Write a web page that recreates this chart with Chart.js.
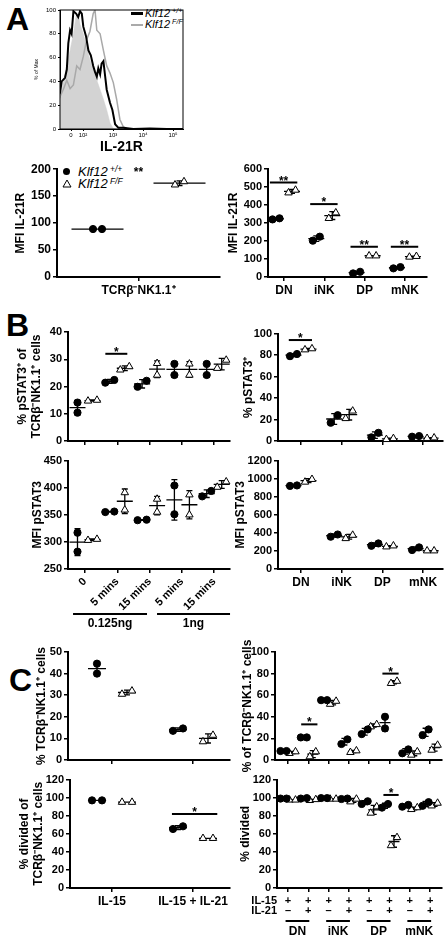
<!DOCTYPE html>
<html><head><meta charset="utf-8"><title>Klf12 IL-21R figure</title>
<script src="https://cdn.jsdelivr.net/npm/chart.js@4.4.1/dist/chart.umd.min.js"></script>
<style>
html,body{margin:0;padding:0;background:#fff;}
body{position:relative;width:447px;height:938px;overflow:hidden;font-family:'Liberation Sans',Arial,Helvetica,sans-serif;color:#000;}
canvas{position:absolute;}
.t{position:absolute;white-space:nowrap;line-height:1;}
.letter{font-weight:bold;font-size:32px;}
.leg{font-style:italic;}
.leg sup{font-size:0.65em;vertical-align:0;position:relative;top:-0.5em;}
</style></head><body>
<div class="t letter" style="left:6px;top:3px">A</div>
<div class="t letter" style="left:6px;top:309px">B</div>
<div class="t letter" style="left:9px;top:664px">C</div>

<div style="position:absolute;left:131px;top:12px;width:12px;height:3px;background:#000"></div>
<div class="t leg" style="left:145px;top:8px;font-size:11px">Klf12<sup> +/+</sup></div>
<div style="position:absolute;left:131px;top:24px;width:12px;height:2px;background:#aaa"></div>
<div class="t leg" style="left:145px;top:19px;font-size:11px">Klf12<sup> F/F</sup></div>

<div style="position:absolute;left:63px;top:168px;width:7px;height:7px;border-radius:50%;background:#000"></div>
<svg style="position:absolute;left:62px;top:179px" width="10" height="9"><polygon points="5,1 9,8 1,8" fill="#fff" stroke="#000" stroke-width="1"/></svg>
<div class="t leg" style="left:78px;top:165px;font-size:13px">Klf12<sup> +/+</sup></div>
<div class="t leg" style="left:78px;top:177px;font-size:13px">Klf12<sup> F/F</sup></div>

<script>
// ================= DATA =================
// Panel A – histogram (x = log10 IL-21R intensity, y = % of Max)
const histTicks = [1.6, 2, 3, 4, 5];
const histTickLabels = ['0', '10²', '10³', '10⁴', '10⁵'];
const histWtX = [1.23,1.29,1.40,1.46,1.51,1.57,1.62,1.68,1.77,1.84,1.90,1.96,2.01,2.10,2.18,2.26,2.34,2.40,2.46,2.51,2.57,2.62,2.68,2.73,2.79,2.90,2.98,3.07,3.18,3.34,3.68,4.23,4.79,5.33];
const histWtY = [30,40,43,50,72,83,80,99,97,94,99,97,86,78,66,62,53,48,44,51,46,55,57,46,33,22,16,4,1,1,0,0.5,0,0];
const histKoX = [1.23,1.34,1.46,1.57,1.68,1.79,1.90,2.01,2.12,2.23,2.34,2.40,2.46,2.57,2.68,2.79,2.90,3.01,3.12,3.23,3.34,3.46,3.68,5.33];
const histKoY = [27,33,41,34,37,53,50,61,75,82,97,100,83,80,66,53,47,39,25,8,2,0.5,0,0];
const histCtrlX = [1.23,1.34,1.46,1.57,1.68,1.77,1.84,1.90,2.01,2.12,2.23,2.34,2.46,2.57,2.68,2.79,2.90,3.01,3.12,5.33];
const histCtrlY = [25,39,53,66,80,95,97,88,80,69,58,50,41,33,25,16,5,0.5,0,0];

// Panel A – MFI IL-21R
const aLeftCats = ['TCRβ⁻NK1.1⁺'];
const aLeftWT = [[89, 89]];
const aLeftKO = [[171, 177]];
const aLeftSig = [{cat: 0, y: 192, text: '**', line: false}];
const subsets = ['DN', 'iNK', 'DP', 'mNK'];
const aRightWT = [[320, 326], [202, 224], [20, 29], [48, 55]];
const aRightKO = [[468, 483], [326, 357], [118, 118], [111, 115]];
const aRightSig = [{cat: 0, y: 525, text: '**'}, {cat: 1, y: 405, text: '*'}, {cat: 2, y: 168, text: '**'}, {cat: 3, y: 168, text: '**'}];

// Panel B
const timeLabels = ['0', '5 mins', '15 mins', '5 mins', '15 mins'];
const doseGroups = [{label: '0.125ng', first: 0, last: 2}, {label: '1ng', first: 3, last: 4}];
const bPctWT = [[14.1, 10.4], [21.4, 22.4], [19.9, 22.1], [28.3, 24.2], [28.3, 24.2]];
const bPctKO = [[14.7, 15.0], [26.1, 27.3], [24.2, 28.5], [28.3, 24.2], [26.7, 29.7]];
const bPctSig = [{cat: 1, y: 32, text: '*'}];
const bSubPctWT = [[79, 81], [17, 24], [3.4, 7.6], [4, 4.6]];
const bSubPctKO = [[85, 86], [21, 28], [1.5, 2.4], [2.5, 3]];
const bSubPctSig = [{cat: 0, y: 94, text: '*'}];
const bMfiWT = [[317, 282], [355, 356], [340, 341], [404, 351], [384, 394]];
const bMfiKO = [[303, 305], [359, 391], [355, 379], [350, 387], [401, 411]];
const bSubMfiWT = [[920, 925], [357, 382], [257, 283], [210, 239]];
const bSubMfiKO = [[963, 993], [338, 375], [246, 257], [202, 202]];

// Panel C
const cytokines = ['IL-15', 'IL-15 + IL-21'];
const cPctWT = [[44.6, 40], [13.5, 14.6]];
const cPctKO = [[30.5, 32], [8.5, 11.5]];
const cDivWT = [[97, 97], [65.3, 68.3]];
const cDivKO = [[95, 95], [55, 55]];
const cDivSig = [{cat: 1, y: 82, text: '*'}];
const stimRowLabels = ['IL-15', 'IL-21'];
const il15Row = ['+', '+', '+', '+', '+', '+', '+', '+'];
const il21Row = ['–', '+', '–', '+', '–', '+', '–', '+'];
const cSubPctWT = [[8.3, 8.3], [20.9, 20.9], [55.4, 55.4], [14.8, 19.1], [24, 28.3], [40, 29.2], [6.2, 9.8], [23, 28.3]];
const cSubPctKO = [[6.2, 7.7], [3.1, 7.7], [51.7, 54.5], [7.1, 8.6], [30.8, 32.9], [71, 73], [4.6, 7.7], [9.2, 13.8]];
const cSubPctSig = [{cat: 1, y: 33, text: '*'}, {cat: 5, y: 80, text: '*'}];
const cSubDivWT = [[99, 99], [99, 99.5], [99.5, 99.5], [98.5, 99], [93, 96], [89, 93], [90, 92], [91, 95]];
const cSubDivKO = [[97.5, 97.5], [97, 98], [98.5, 98.5], [95.5, 98.5], [83, 90], [47, 56], [87, 89], [91, 94]];
const cSubDivSig = [{cat: 5, y: 103, text: '*'}];

// ================= RENDERING =================
const FONT = "'Liberation Sans', Arial, Helvetica, sans-serif";
Chart.defaults.font.family = FONT;
Chart.defaults.font.weight = 'bold';
Chart.defaults.font.size = 11;
Chart.defaults.color = '#000';
Chart.defaults.animation = false;
Chart.defaults.plugins.legend.display = false;
Chart.defaults.plugins.tooltip.enabled = false;

function makeCanvas(box) {
  const c = document.createElement('canvas');
  c.width = box.w; c.height = box.h;
  c.style.left = box.l + 'px'; c.style.top = box.t + 'px';
  c.style.width = box.w + 'px'; c.style.height = box.h + 'px';
  document.body.appendChild(c);
  return c;
}

const sigPlugin = {
  id: 'sig',
  afterDatasetsDraw(chart, args, opts) {
    const ctx = chart.ctx, xs = chart.scales.x, ys = chart.scales.y;
    ctx.save();
    ctx.strokeStyle = '#000'; ctx.fillStyle = '#000'; ctx.lineWidth = 2;
    ctx.font = 'bold 12px ' + FONT; ctx.textAlign = 'center'; ctx.textBaseline = 'alphabetic';
    (opts.items || []).forEach(it => {
      const y = ys.getPixelForValue(it.y);
      const x1 = xs.getPixelForValue(it.cat + (opts.from || 0));
      const x2 = xs.getPixelForValue(it.cat + (opts.to || 0));
      if (it.line !== false) { ctx.beginPath(); ctx.moveTo(x1, y); ctx.lineTo(x2, y); ctx.stroke(); }
      ctx.fillText(it.text, (x1 + x2) / 2, y + 2);
    });
    ctx.restore();
  }
};

const DOSE_EXTENTS = [[-0.37, -0.08], [-0.77, 0.49]];
const dosePlugin = {
  id: 'dose',
  afterDraw(chart) {
    const ctx = chart.ctx, xs = chart.scales.x, b = chart.chartArea.bottom;
    ctx.save();
    ctx.strokeStyle = '#000'; ctx.fillStyle = '#000'; ctx.lineWidth = 2;
    ctx.font = 'bold 12px ' + FONT; ctx.textAlign = 'center'; ctx.textBaseline = 'middle';
    doseGroups.forEach((g, k) => {
      const x1 = xs.getPixelForValue(g.first + DOSE_EXTENTS[k][0]);
      const x2 = xs.getPixelForValue(g.last + DOSE_EXTENTS[k][1]);
      ctx.beginPath(); ctx.moveTo(x1, b + 45); ctx.lineTo(x2, b + 45); ctx.stroke();
      ctx.fillText(g.label, (x1 + x2) / 2, b + 55);
    });
    ctx.restore();
  }
};

const stimPlugin = {
  id: 'stim',
  afterDraw(chart) {
    const ctx = chart.ctx, xs = chart.scales.x, a = chart.chartArea;
    ctx.save();
    ctx.strokeStyle = '#000'; ctx.fillStyle = '#000'; ctx.lineWidth = 2;
    ctx.font = 'bold 11px ' + FONT; ctx.textBaseline = 'middle';
    ctx.textAlign = 'right';
    ctx.fillText(stimRowLabels[0], a.left, a.bottom + 13);
    ctx.fillText(stimRowLabels[1], a.left, a.bottom + 23);
    ctx.textAlign = 'center';
    il15Row.forEach((s, i) => ctx.fillText(s, xs.getPixelForValue(i), a.bottom + 13));
    il21Row.forEach((s, i) => ctx.fillText(s, xs.getPixelForValue(i), a.bottom + 23));
    ctx.font = 'bold 12px ' + FONT;
    subsets.forEach((lab, k) => {
      const x1 = xs.getPixelForValue(2 * k - 0.12), x2 = xs.getPixelForValue(2 * k + 1.05);
      ctx.beginPath(); ctx.moveTo(x1, a.bottom + 33); ctx.lineTo(x2, a.bottom + 33); ctx.stroke();
      ctx.fillText(lab, (x1 + x2) / 2, a.bottom + 44);
    });
    ctx.restore();
  }
};

const framePlugin = {
  id: 'frame',
  afterDraw(chart) {
    const a = chart.chartArea, ctx = chart.ctx;
    ctx.save(); ctx.strokeStyle = '#000'; ctx.lineWidth = 1;
    ctx.strokeRect(a.left, a.top, a.right - a.left, a.bottom - a.top);
    ctx.restore();
  }
};

function axisX(cfg) {
  const {box, area} = cfg;
  return {
    type: 'linear', min: cfg.xMin, max: cfg.xMax,
    border: {display: true, color: '#000', width: cfg.axisW || 2},
    grid: {display: true, drawOnChartArea: false, drawTicks: true, tickLength: cfg.tickLen || 4, color: '#000', lineWidth: cfg.tickW || 1.5},
    afterBuildTicks: s => { s.ticks = cfg.xTicks.map(v => ({value: v})); },
    afterFit: s => { s.height = box.t + box.h - area.b; },
    ticks: {autoSkip: false, maxRotation: cfg.rot || 0, minRotation: cfg.rot || 0, padding: cfg.xPad ?? 2,
      font: {size: cfg.xFont || 12, weight: 'bold'},
      callback: (v, i) => cfg.xLabels ? cfg.xLabels[i] : ''},
    title: cfg.xTitle ? {display: true, text: cfg.xTitle, font: {size: 14, weight: 'bold', lineHeight: 1.2}, padding: {top: 2, bottom: 4}} : {display: false}
  };
}
function axisY(cfg) {
  const {box, area} = cfg;
  return {
    type: 'linear', min: cfg.yMin, max: cfg.yMax,
    border: {display: true, color: '#000', width: cfg.axisW || 2},
    grid: {display: true, drawOnChartArea: false, drawTicks: true, tickLength: cfg.tickLen || 4, color: '#000', lineWidth: cfg.tickW || 1.5},
    afterBuildTicks: s => { const t = []; for (let v = cfg.yMin; v <= cfg.yMax + 1e-9; v += cfg.yStep) t.push({value: v}); s.ticks = t; },
    afterFit: s => { s.width = area.l - box.l; },
    ticks: {padding: 2, font: {size: cfg.yFont || 11, weight: 'bold'}, callback: v => String(v)},
    title: {display: true, text: cfg.yTitle, font: {size: cfg.yTitleSize || 12, weight: cfg.yTitleWeight || 'bold', lineHeight: 1.2}, padding: {top: 4, bottom: 4}}
  };
}
function baseOptions(cfg) {
  const {box, area} = cfg;
  return {
    responsive: false, devicePixelRatio: 1, animation: false,
    layout: {autoPadding: false, padding: {top: area.t - box.t, right: box.l + box.w - area.r, left: 0, bottom: 0}},
    scales: {x: axisX(cfg), y: axisY(cfg)},
    plugins: {legend: {display: false}, tooltip: {enabled: false}}
  };
}

function dotChart(cfg) {
  const {area} = cfg;
  const unit = (area.r - area.l) / (cfg.xMax - cfg.xMin);
  const yPx = (area.b - area.t) / (cfg.yMax - cfg.yMin);
  const G = cfg.g / unit, S = cfg.s / unit, MH = cfg.mh / unit, CAP = 3 / unit;
  const circ = [], tri = [], lines = [];
  function addGroup(center, vals, arr) {
    const lo = Math.min(vals[0], vals[1]), hi = Math.max(vals[0], vals[1]);
    const sp = (hi - lo) * yPx < 9 ? S : 0;
    arr.push({x: center - sp, y: lo}, {x: center + sp, y: hi});
    const m = (vals[0] + vals[1]) / 2, sd = Math.abs(vals[0] - vals[1]) / Math.SQRT2;
    lines.push({x: center - MH, y: m}, {x: center + MH, y: m}, {x: center, y: null});
    if (sd > 0) {
      lines.push({x: center, y: m - sd}, {x: center, y: m + sd}, {x: center, y: null},
        {x: center - CAP, y: m + sd}, {x: center + CAP, y: m + sd}, {x: center, y: null},
        {x: center - CAP, y: m - sd}, {x: center + CAP, y: m - sd}, {x: center, y: null});
    }
  }
  cfg.wt.forEach((v, i) => addGroup(i - G, v, circ));
  cfg.ko.forEach((v, i) => addGroup(i + G, v, tri));
  cfg.xTicks = cfg.wt.map((_, i) => i);
  const opts = baseOptions(cfg);
  opts.plugins.sig = {items: cfg.sig || [], from: cfg.sigFrom ?? -0.35, to: cfg.sigTo ?? 0.33};
  new Chart(makeCanvas(cfg.box), {
    type: 'scatter',
    data: {datasets: [
      {data: circ, pointStyle: 'circle', pointRadius: 3.6, backgroundColor: '#000', borderColor: '#000', borderWidth: 1, showLine: false, clip: false, order: 0},
      {data: tri, pointStyle: 'triangle', pointRadius: 4.3, backgroundColor: '#fff', borderColor: '#000', borderWidth: 1, showLine: false, clip: false, order: 0},
      {data: lines, showLine: true, pointRadius: 0, borderColor: '#000', borderWidth: 1.3, spanGaps: false, clip: false, order: 1}
    ]},
    options: opts,
    plugins: [sigPlugin].concat(cfg.plugins || [])
  });
}

// ---- Panel A histogram ----
(function () {
  const cfg = {box: {l: 30, t: 0, w: 165, h: 160}, area: {l: 60, t: 10, r: 183, b: 129},
    xMin: 1.233, xMax: 5.333, yMin: 0, yMax: 100, yStep: 20, xTicks: histTicks, xLabels: histTickLabels,
    xFont: 6, yFont: 6, tickLen: 2, tickW: 1, axisW: 1, xTitle: 'IL-21R', yTitle: '% of Max', yTitleSize: 5, yTitleWeight: 'normal', xPad: 1};
  const opts = baseOptions(cfg);
  opts.scales.y.ticks.font = {size: 6, weight: 'normal'};
  opts.scales.x.ticks.font = {size: 6, weight: 'normal'};
  const pts = (xs, ys) => xs.map((x, i) => ({x, y: ys[i]}));
  new Chart(makeCanvas(cfg.box), {
    type: 'scatter',
    data: {datasets: [
      {data: pts(histWtX, histWtY), showLine: true, borderColor: '#000', borderWidth: 2, pointRadius: 0, order: 0},
      {data: pts(histKoX, histKoY), showLine: true, borderColor: '#a9a9a9', borderWidth: 1.5, pointRadius: 0, order: 1},
      {data: pts(histCtrlX, histCtrlY), showLine: true, borderColor: '#d0d0d0', borderWidth: 0.5, backgroundColor: '#d3d3d3', fill: 'origin', pointRadius: 0, order: 2}
    ]},
    options: opts,
    plugins: [framePlugin]
  });
})();

// ---- Panel A dot plots ----
dotChart({box: {l: 9, t: 160, w: 216, h: 142}, area: {l: 57, t: 169, r: 220, b: 277},
  xMin: -0.5, xMax: 0.5, yMin: 0, yMax: 200, yStep: 50, yFont: 12, yTitle: 'MFI IL-21R',
  xLabels: aLeftCats, wt: aLeftWT, ko: aLeftKO, g: 41, s: 4.5, mh: 26, sig: aLeftSig, sigFrom: 0, sigTo: 0});
dotChart({box: {l: 222, t: 160, w: 225, h: 142}, area: {l: 268, t: 169, r: 427, b: 277},
  xMin: -0.397, xMax: 3.548, yMin: 0, yMax: 600, yStep: 100, yTitle: 'MFI IL-21R',
  xLabels: subsets, wt: aRightWT, ko: aRightKO, g: 8, s: 3.5, mh: 8, sig: aRightSig, sigFrom: -0.35, sigTo: 0.33});

// ---- Panel B ----
dotChart({box: {l: 11, t: 315, w: 224, h: 135}, area: {l: 68, t: 332, r: 230, b: 441},
  xMin: -0.526, xMax: 4.489, yMin: 0, yMax: 40, yStep: 10, yTitle: ['% pSTAT3⁺ of', 'TCRβ⁻NK1.1⁺ cells'],
  wt: bPctWT, ko: bPctKO, g: 7.5, s: 4.5, mh: 8, sig: bPctSig, sigFrom: -0.37, sigTo: 0.31});
dotChart({box: {l: 237, t: 325, w: 210, h: 125}, area: {l: 278, t: 332, r: 443, b: 441},
  xMin: -0.565, xMax: 3.489, yMin: 0, yMax: 100, yStep: 20, yTitle: '% pSTAT3⁺',
  wt: bSubPctWT, ko: bSubPctKO, g: 7.5, s: 3.5, mh: 8, sig: bSubPctSig, sigFrom: -0.3, sigTo: 0.27});
dotChart({box: {l: 26, t: 452, w: 209, h: 180}, area: {l: 68, t: 460, r: 230, b: 569},
  xMin: -0.526, xMax: 4.489, yMin: 250, yMax: 450, yStep: 50, yTitle: 'MFI pSTAT3',
  xLabels: timeLabels, rot: 45, xFont: 11, wt: bMfiWT, ko: bMfiKO, g: 7.5, s: 4.5, mh: 8, plugins: [dosePlugin]});
dotChart({box: {l: 229, t: 452, w: 218, h: 140}, area: {l: 278, t: 460, r: 443, b: 569},
  xMin: -0.565, xMax: 3.489, yMin: 0, yMax: 1200, yStep: 200, yTitle: 'MFI pSTAT3',
  xLabels: subsets, wt: bSubMfiWT, ko: bSubMfiKO, g: 7.5, s: 3.5, mh: 8});

// ---- Panel C ----
dotChart({box: {l: 30, t: 632, w: 205, h: 140}, area: {l: 68, t: 652, r: 230, b: 760},
  xMin: -0.543, xMax: 1.457, yMin: 0, yMax: 50, yStep: 10, yTitle: '% TCRβ⁻NK1.1⁺ cells',
  wt: cPctWT, ko: cPctKO, g: 15, s: 5, mh: 9});
dotChart({box: {l: 236, t: 626, w: 211, h: 152}, area: {l: 275, t: 652, r: 442, b: 760},
  xMin: -0.64, xMax: 7.586, yMin: 0, yMax: 100, yStep: 20, yTitle: '% of TCRβ⁻NK1.1⁺ cells',
  wt: cSubPctWT, ko: cSubPctKO, g: 4.5, s: 3, mh: 5.5, sig: cSubPctSig, sigFrom: -0.35, sigTo: 0.45});
dotChart({box: {l: 13, t: 771, w: 222, h: 140}, area: {l: 70, t: 778, r: 230, b: 888},
  xMin: -0.519, xMax: 1.457, yMin: 0, yMax: 120, yStep: 20, yTitle: ['% divided of', 'TCRβ⁻NK1.1⁺ cells'],
  xLabels: cytokines, wt: cDivWT, ko: cDivKO, g: 15, s: 5, mh: 9, sig: cDivSig, sigFrom: -0.26, sigTo: 0.3});
dotChart({box: {l: 234, t: 771, w: 213, h: 167}, area: {l: 277, t: 778, r: 442, b: 888},
  xMin: -0.542, xMax: 7.586, yMin: 0, yMax: 120, yStep: 20, yTitle: '% divided',
  wt: cSubDivWT, ko: cSubDivKO, g: 4.5, s: 3, mh: 5.5, sig: cSubDivSig, sigFrom: -0.3, sigTo: 0.45, plugins: [stimPlugin]});
</script>
</body></html>
